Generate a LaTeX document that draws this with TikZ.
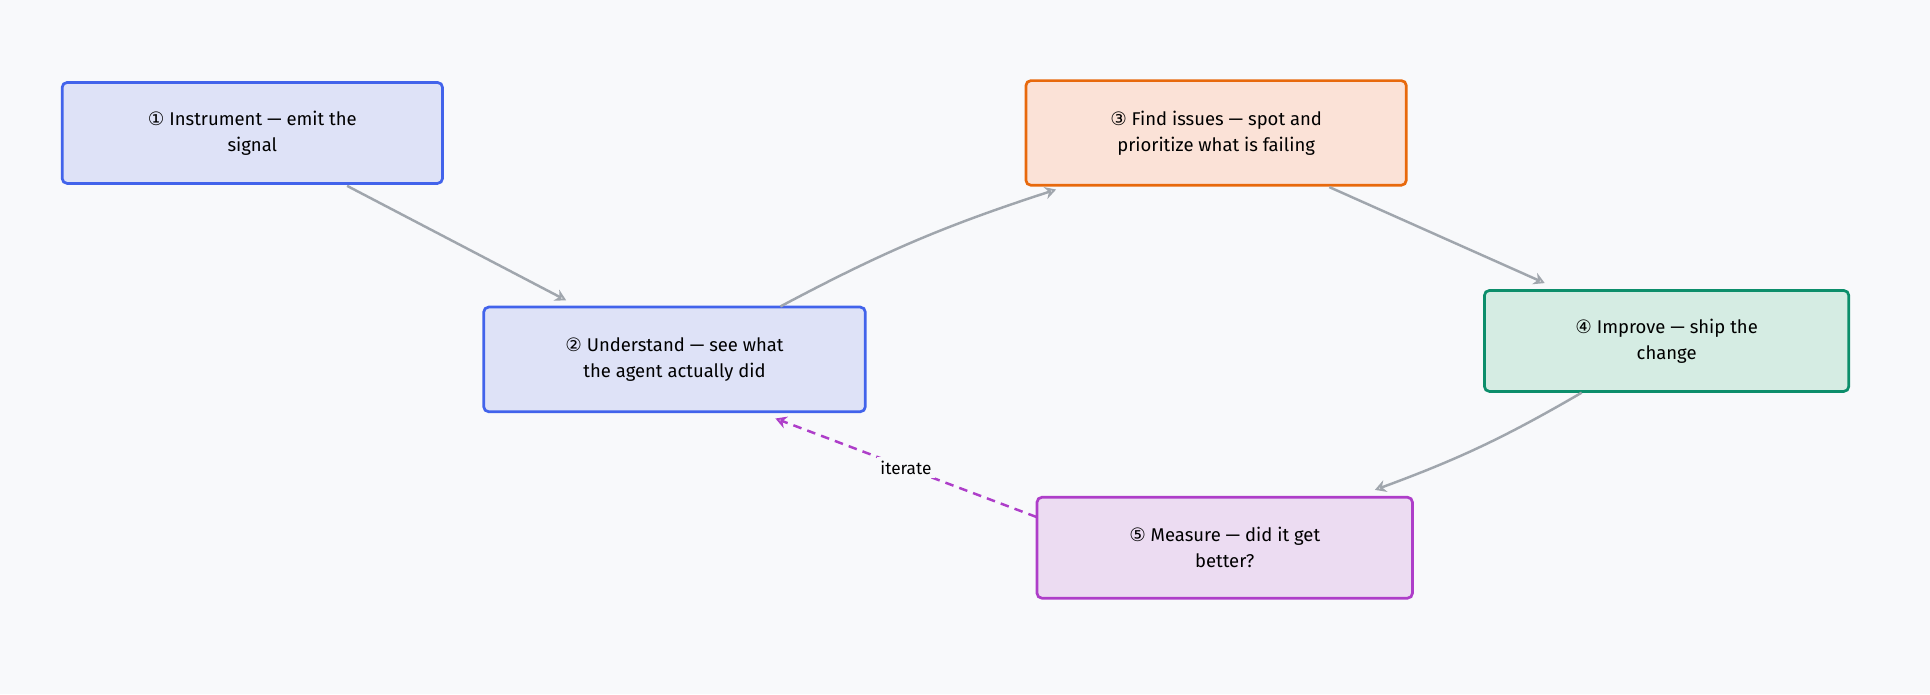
\documentclass[tikz,border=0pt]{standalone}
\usepackage{fontspec}
\setmainfont{Fira Sans}
\newfontfamily\djv{DejaVu Sans}
\usetikzlibrary{arrows.meta}
\definecolor{bg}{HTML}{F8F9FB}
\definecolor{bluB}{HTML}{4263EB}\definecolor{bluF}{HTML}{DEE2F7}
\definecolor{orB}{HTML}{E8690C}\definecolor{orF}{HTML}{FBE2D7}
\definecolor{grB}{HTML}{0C8E6B}\definecolor{grF}{HTML}{D5ECE3}
\definecolor{puB}{HTML}{AE3EC9}\definecolor{puF}{HTML}{ECDCF2}
\definecolor{arr}{HTML}{A0A6AD}
\begin{document}
\begin{tikzpicture}[x=1pt,y=-1pt,
  box/.style={draw=#1B,fill=#1F,line width=2.2pt,rounded corners=4pt,align=center,font=\fontsize{15}{21}\selectfont,inner sep=0pt},
  con/.style={draw=arr,line width=2pt,-{Stealth[open,length=9pt,width=10pt]}},
  it/.style={draw=puB,line width=2pt,dash pattern=on 7pt off 5pt,-{Stealth[open,length=9pt,width=10pt]}}]
\fill[bg] (0,0) rectangle (1568,564);
\useasboundingbox (0,0) rectangle (1568,564);
\node[box=blu,minimum width=309pt,minimum height=82pt] (n1) at (205,108) {{\djv ①} Instrument — emit the\\signal};
\node[box=blu,minimum width=310pt,minimum height=85pt] (n2) at (548,292) {{\djv ②} Understand — see what\\the agent actually did};
\node[box=or,minimum width=309pt,minimum height=85pt] (n3) at (988,108) {{\djv ③} Find issues — spot and\\prioritize what is failing};
\node[box=gr,minimum width=296pt,minimum height=82pt] (n4) at (1354,277) {{\djv ④} Improve — ship the\\change};
\node[box=pu,minimum width=305pt,minimum height=82pt] (n5) at (995,445) {{\djv ⑤} Measure — did it get\\better?};
\coordinate (a1) at (282,151);
\draw[con] (a1) -- (460,244);
\draw[con] (634,249) to[bend left=5] (858,154);
\draw[con] (1080,152) -- (1255,230);
\draw[con] (1285,319) to[bend right=-5] (1117,398);
\draw[it] (842,420) -- node[pos=0.5,fill=bg,inner sep=3pt,font=\fontsize{14}{16}\selectfont]{iterate} (630,340);
\end{tikzpicture}
\end{document}
